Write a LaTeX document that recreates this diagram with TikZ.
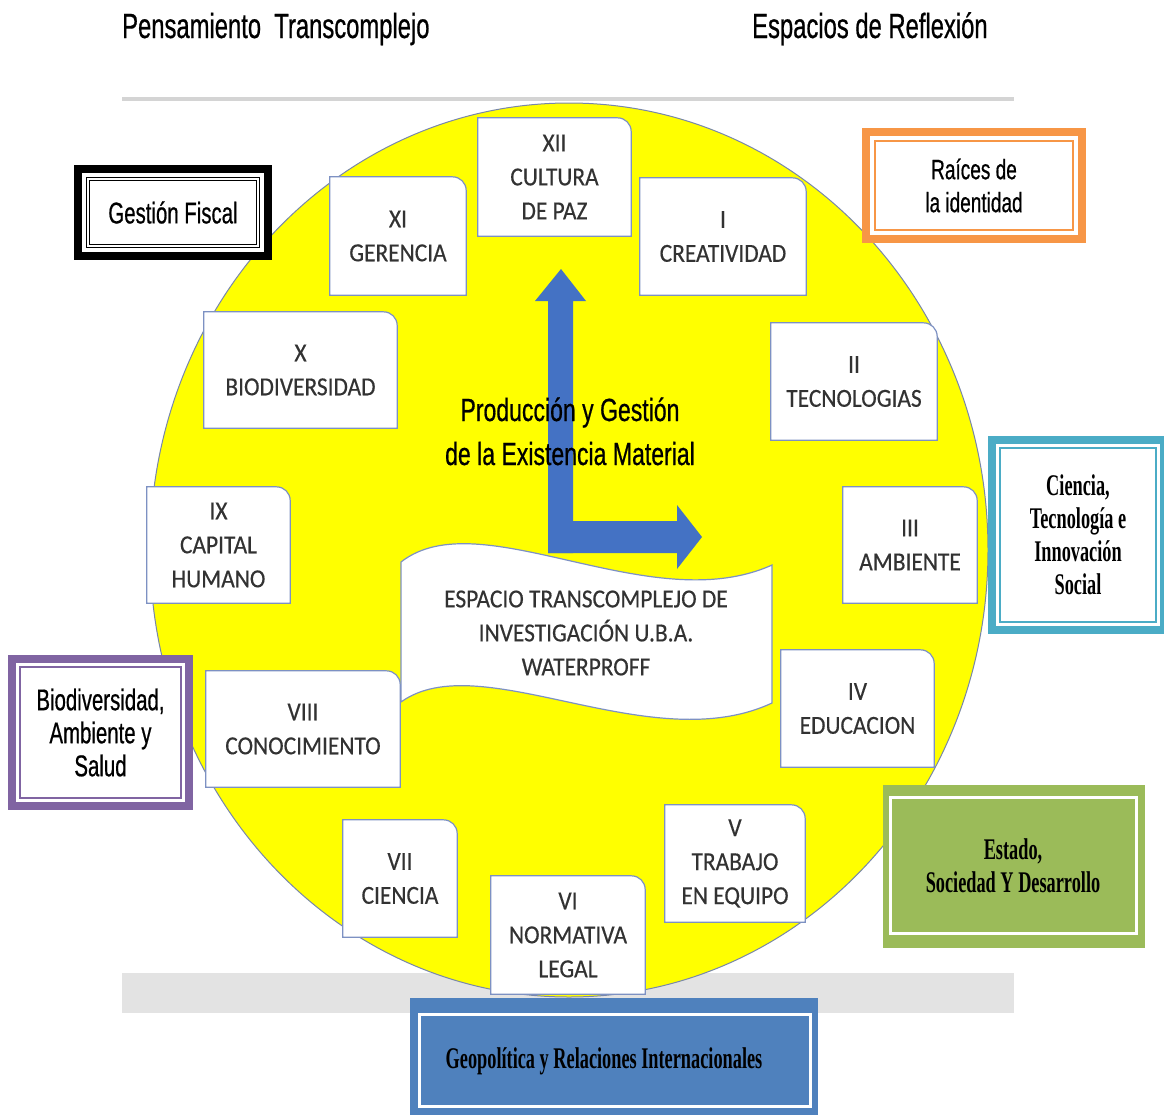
\documentclass[tikz,border=0pt]{standalone}
\usepackage{fontspec}
\setmainfont{Liberation Sans}
\newfontfamily\titlefont[FakeStretch=0.68,FakeBold=0.6]{Liberation Sans}
\newfontfamily\midfont[FakeStretch=0.72,FakeBold=0.6]{Liberation Sans}
\newfontfamily\boxfont[FakeStretch=0.9,FakeBold=0.4]{Carlito}
\newfontfamily\serffont[FakeStretch=0.61]{Liberation Serif}
\pgfdeclarelayer{back}
\pgfdeclarelayer{mid}
\pgfsetlayers{back,mid,main}
\definecolor{boxedge}{RGB}{125,145,195}
\definecolor{circedge}{RGB}{120,135,170}
\definecolor{boxgray}{RGB}{50,50,50}
\definecolor{arrowblue}{RGB}{68,114,196}
\definecolor{orangec}{RGB}{247,150,70}
\definecolor{tealc}{RGB}{75,172,198}
\definecolor{purplec}{RGB}{128,100,162}
\definecolor{greenc}{RGB}{155,187,89}
\definecolor{bluec}{RGB}{79,129,189}
\definecolor{bandgray}{RGB}{227,227,227}
\definecolor{linegray}{RGB}{212,212,212}
\definecolor{pureyellow}{RGB}{255,255,0}
\tikzset{
  romantext/.style={align=center, inner sep=0pt, font=\boxfont\fontsize{26}{34}\selectfont, text=boxgray},
  boxline/.style={draw=boxedge, line width=1.2pt, fill=white},
  titletext/.style={anchor=base west, inner sep=0pt, font=\titlefont\fontsize{35}{40}\selectfont},
  bandframe/.style={draw=#1, line width=8pt, fill=white, inner sep=0pt},
  thinframe/.style={draw=#1, line width=1.2pt, inner sep=0pt, align=center},
  narrowtext/.style={font=\titlefont\fontsize{#1}{33}\selectfont},
  seriftext/.style={font=\serffont\bfseries\fontsize{30}{33}\selectfont},
  midtext/.style={anchor=base, inner sep=0pt, font=\midfont\fontsize{32}{44}\selectfont}
}
\newcommand\romanbox[6]{%
  \node[romantext, minimum width={#4-#2}, minimum height={#5-#3}] (#1) at ({(#2+#4)/2},{(#3+#5)/2}) {#6};
  \begin{pgfonlayer}{mid}
  \filldraw[boxline] (#1.south west) -- (#1.north west) -- ([xshift=-14pt]#1.north east)
    .. controls ([xshift=-6pt]#1.north east) and ([yshift=-6pt]#1.north east) .. ([yshift=-14pt]#1.north east)
    -- (#1.south east) -- cycle;
  \end{pgfonlayer}}
\begin{document}
\begin{tikzpicture}[x=1pt,y=-1pt]
\useasboundingbox (0,0) rectangle (1164,1114);
% background layer
\begin{pgfonlayer}{back}
  \fill[white] (0,0) rectangle (1164,1114);
  \fill[linegray] (122,97) rectangle (1014,100.5);
  \fill[bandgray] (122,973) rectangle (1014,1013);
  \filldraw[fill=pureyellow, draw=circedge, line width=1pt] (569,550) ellipse [x radius=419pt, y radius=447pt];
\end{pgfonlayer}
% titles
\node[titletext] (t1) at (122,38) {Pensamiento\ \ Transcomplejo};
\node[titletext] (t2) at (752,38) {Espacios de Reflexión};
% roman boxes
\romanbox{b12}{478}{118}{631}{236}{XII\\CULTURA\\DE PAZ}
\romanbox{b11}{330}{177}{466}{295}{XI\\GERENCIA}
\romanbox{b1}{640}{178}{806}{295}{I\\CREATIVIDAD}
\romanbox{b10}{204}{312}{397}{428}{X\\BIODIVERSIDAD}
\romanbox{b2}{771}{323}{937}{440}{II\\TECNOLOGIAS}
\romanbox{b9}{147}{487}{290}{603}{IX\\CAPITAL\\HUMANO}
\romanbox{b3}{843}{487}{977}{603}{III\\AMBIENTE}
\romanbox{b8}{206}{671}{400}{787}{VIII\\CONOCIMIENTO}
\romanbox{b4}{781}{650}{934}{767}{IV\\EDUCACION}
\romanbox{b7}{343}{820}{457}{937}{VII\\CIENCIA}
\romanbox{b5}{665}{805}{805}{922}{V\\TRABAJO\\EN EQUIPO}
\romanbox{b6}{491}{876}{645}{994}{VI\\NORMATIVA\\LEGAL}
% arrows
\fill[arrowblue] (548,553) -- (548,301) -- (535,301) -- (561,269) -- (586,301) -- (573,301) -- (573,553) -- cycle;
\fill[arrowblue] (548,521) -- (677,521) -- (677,505) -- (702,537) -- (677,569) -- (677,553) -- (548,553) -- cycle;
% banner
\filldraw[fill=white, draw=boxedge, line width=1.2pt] (401,562) .. controls (480,500) and (650,620) .. (772,565)
  -- (772,703) .. controls (650,760) and (480,645) .. (401,702) -- cycle;
\node[romantext] (banner) at (586,633) {ESPACIO TRANSCOMPLEJO DE\\INVESTIGACIÓN U.B.A.\\WATERPROFF};
% middle text
\node[midtext] (prod1) at (570,421) {Producción y Gestión};
\node[midtext] (prod2) at (570,465) {de la Existencia Material};
% Gestion Fiscal
\node[bandframe=black, minimum width=190, minimum height=87] (gfframe) at (173,212.5) {};
\node[draw=black, double=white, double distance=1.5pt, line width=0.8pt, minimum width=170, minimum height=67, inner sep=0pt, narrowtext=30] (gf) at (173,212.5) {Gestión Fiscal};
% Raices
\node[bandframe=orangec, minimum width=216, minimum height=107] (raicesframe) at (974,185.5) {};
\node[thinframe=orangec, minimum width=198, minimum height=89, narrowtext=28] (raices) at (974,185.5) {Raíces de\\la identidad};
% Ciencia
\node[bandframe=tealc, minimum width=172, minimum height=190] (cienciaframe) at (1078,535) {};
\node[thinframe=tealc, minimum width=156, minimum height=174, seriftext] (ciencia) at (1078,535) {Ciencia,\\Tecnología e\\Innovación\\Social};
% Biodiversidad
\node[bandframe=purplec, minimum width=177, minimum height=147] (bioframe) at (100.5,732.5) {};
\node[thinframe=purplec, minimum width=161, minimum height=131, narrowtext=30] (bio) at (100.5,732.5) {Biodiversidad,\\Ambiente y\\Salud};
% Estado
\node[fill=greenc, minimum width=262, minimum height=163, inner sep=0pt] (estadoframe) at (1014,866.5) {};
\node[draw=white, line width=3pt, minimum width=246, minimum height=136, inner sep=0pt, align=center, seriftext] (estado) at (1013,865.5) {Estado,\\Sociedad Y Desarrollo};
% Geopolitica
\node[fill=bluec, minimum width=408, minimum height=122, inner sep=0pt] (geoframe) at (614,1059) {};
\node[draw=white, line width=3pt, minimum width=391.5, minimum height=92.5, inner sep=0pt] (geoinner) at (614.75,1060.25) {};
\node[seriftext, inner sep=0pt] (geo) at (604,1061) {Geopolítica y Relaciones Internacionales};
\end{tikzpicture}
\end{document}
